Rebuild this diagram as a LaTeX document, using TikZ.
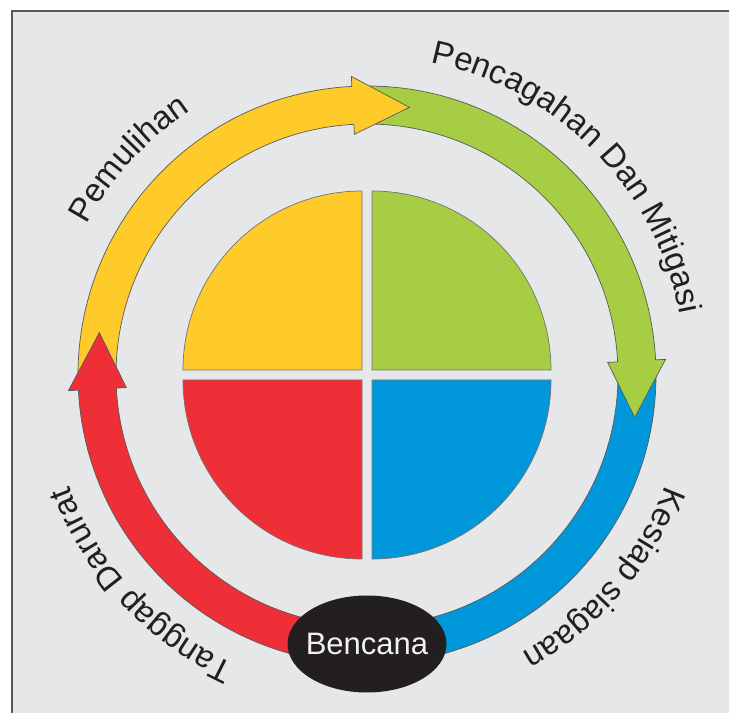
\documentclass[tikz,border=0pt]{standalone}
\usepackage{fontspec}
\setmainfont{Liberation Sans}
\usetikzlibrary{shapes.geometric,decorations.text}
\definecolor{panelgray}{HTML}{E6E7E8}
\definecolor{cyellow}{HTML}{FFCB2B}
\definecolor{cgreen}{HTML}{A7CD45}
\definecolor{cblue}{HTML}{0098DA}
\definecolor{cred}{HTML}{EE2F37}
\definecolor{inkblack}{HTML}{231F20}
\newcommand\lblfont{\fontsize{33}{40}\selectfont\color{inkblack}}
\tikzset{
  quarter/.style={draw=black!55,line width=0.7pt},
  ringarc/.style={draw=black!65,line width=0.7pt},
  bencana/.style={ellipse,fill=inkblack,minimum width=159,minimum height=97,inner sep=0pt},
  bencanatext/.style={text=white!95!black,inner sep=0pt,font=\fontsize{31}{37}\selectfont},
  lbl/.style={decorate,decoration={text along path,text align=center,text={|\lblfont|#1}}}
}
\begin{document}
\begin{tikzpicture}[x=1pt,y=1pt]
\useasboundingbox (0,0) rectangle (729,713);
\fill[panelgray] (12,0) rectangle (729,702);
\draw[black!65,line width=1.2pt] (729,702)--(12,702)--(12,0);
\coordinate (O) at (367,338);
\begin{scope}[shift={(O)}]
% inner quarters
\filldraw[quarter,fill=cgreen] (5,5)--(5,184) arc[start angle=90,end angle=0,radius=179]--cycle;
\filldraw[quarter,fill=cyellow] (-5,5)--(-184,5) arc[start angle=180,end angle=90,radius=179]--cycle;
\filldraw[quarter,fill=cred] (-5,-5)--(-5,-184) arc[start angle=270,end angle=180,radius=179]--cycle;
\filldraw[quarter,fill=cblue] (5,-5)--(184,-5) arc[start angle=0,end angle=-90,radius=179]--cycle;
% ring arrows
\filldraw[ringarc,fill=cblue] (0:289) arc[start angle=0,end angle=-90,radius=289]
  --(-90:251) arc[start angle=-90,end angle=0,radius=251]--cycle;
\filldraw[ringarc,fill=cgreen] (90:289) arc[start angle=90,end angle=3,radius=289]
  --(3:299)--(-9:271)--(3:241)--(3:251) arc[start angle=3,end angle=90,radius=251]--cycle;
\filldraw[ringarc,fill=cyellow] (180:289) arc[start angle=180,end angle=93,radius=289]
  --(93:299)--(81:271)--(93:241)--(93:251) arc[start angle=93,end angle=180,radius=251]--cycle;
\filldraw[ringarc,fill=cred] (270:289) arc[start angle=270,end angle=183,radius=289]
  --(183:299)--(171:271)--(183:241)--(183:251) arc[start angle=183,end angle=270,radius=251]--cycle;
\node[bencana] (bencana) at (0,-269) {};
\node[bencanatext] (bencanalbl) at (bencana) {Bencana};
% labels round the ring
\path[lbl=Pemulihan] (182.8:318) arc[start angle=182.8,end angle=92.8,radius=318];
\path[lbl=Pencagahan Dan Mitigasi] (94.7:319) arc[start angle=94.7,end angle=-5.3,radius=319];
\path[lbl=Kesiap siagaan] (4.4:318) arc[start angle=4.4,end angle=-85.6,radius=318];
\path[lbl=Tanggap Darurat] (268:318) arc[start angle=268,end angle=178,radius=318];
\end{scope}
\end{tikzpicture}
\end{document}
